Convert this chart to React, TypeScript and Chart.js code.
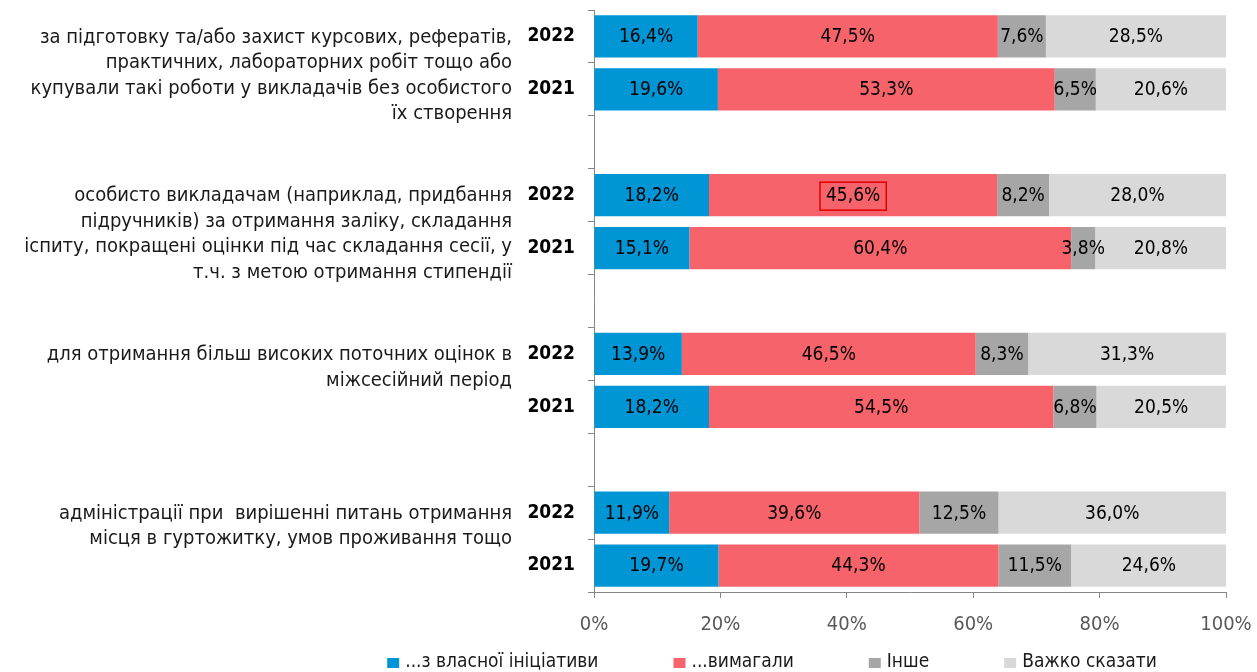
import React, { useEffect, useRef } from "react";
import { Chart, registerables } from "chart.js";

Chart.register(...registerables);

const yearLabels = ["2022", "2021", "", "2022", "2021", "", "2022", "2021", "", "2022", "2021"];

const categoryLines = [
  ["за підготовку та/або захист курсових, рефератів,", "практичних, лабораторних робіт тощо або", "купували такі роботи у викладачів без особистого", "їх створення"],
  ["особисто викладачам (наприклад, придбання", "підручників) за отримання заліку, складання", "іспиту, покращені оцінки під час складання сесії, у", "т.ч. з метою отримання стипендії"],
  ["для отримання більш високих поточних оцінок в", "міжсесійний період"],
  ["адміністрації при  вирішенні питань отримання", "місця в гуртожитку, умов проживання тощо"],
];
const categoryStartIndex = [0, 3, 6, 9];

const seriesNames = ["...з власної ініціативи", "...вимагали", "Інше", "Важко сказати"];
const ownInitiative = [16.4, 19.6, null, 18.2, 15.1, null, 13.9, 18.2, null, 11.9, 19.7];
const demanded = [47.5, 53.3, null, 45.6, 60.4, null, 46.5, 54.5, null, 39.6, 44.3];
const other = [7.6, 6.5, null, 8.2, 3.8, null, 8.3, 6.8, null, 12.5, 11.5];
const hardToSay = [28.5, 20.6, null, 28.0, 20.8, null, 31.3, 20.5, null, 36.0, 24.6];

const xTicks = [0, 20, 40, 60, 80, 100];

const colors = ["#0096D6", "#F7636A", "#A6A6A6", "#D9D9D9"];
const highlight = { dataset: 1, index: 3 };

const FONT = "'DejaVu Sans Condensed', 'DejaVu Sans', sans-serif";

const fmt = (v: number) => v.toFixed(1).replace(".", ",") + "%";

export default function App() {
  const ref = useRef<HTMLCanvasElement | null>(null);
  useEffect(() => {
    document.body.style.margin = "0";
    const ctx = ref.current!.getContext("2d")!;

    const labelPlugin = {
      id: "labels",
      afterDatasetsDraw(chart: any) {
        const c = chart.ctx;
        c.save();
        c.font = `19px ${FONT}`;
        c.fillStyle = "#000";
        c.textAlign = "center";
        c.textBaseline = "middle";
        chart.data.datasets.forEach((ds: any, i: number) => {
          const meta = chart.getDatasetMeta(i);
          meta.data.forEach((bar: any, j: number) => {
            const v = ds.data[j];
            if (v == null) return;
            const p = bar.getProps(["x", "y", "base"], true);
            const cx = (p.x + p.base) / 2;
            const t = fmt(v);
            c.fillText(t, cx, p.y + 1);
            if (i === highlight.dataset && j === highlight.index) {
              const w = c.measureText(t).width;
              c.strokeStyle = "#E00000";
              c.lineWidth = 1.5;
              c.strokeRect(cx - w / 2 - 6, p.y - 13, w + 12, 28);
            }
          });
        });
        c.restore();
      },
    };

    const sidePlugin = {
      id: "side",
      afterDraw(chart: any) {
        const c = chart.ctx;
        const ys = chart.scales.y;
        c.save();
        c.font = `20px ${FONT}`;
        c.fillStyle = "#1a1a1a";
        c.textAlign = "right";
        c.textBaseline = "middle";
        categoryLines.forEach((lines, g) => {
          const y0 = ys.getPixelForValue(categoryStartIndex[g]);
          lines.forEach((ln, k) => {
            c.fillText(ln, 512, y0 + 1 + k * 25.5);
          });
        });
        // legend
        c.font = `19px ${FONT}`;
        c.textAlign = "left";
        const boxW = 12;
        const boxH = 10;
        const gapText = 6;
        const itemGap = 75;
        const widths = seriesNames.map((n) => boxW + gapText + c.measureText(n).width);
        const total = widths.reduce((a, b) => a + b, 0) + itemGap * (seriesNames.length - 1);
        let x = 772 - total / 2;
        const ly = 661;
        seriesNames.forEach((n, i) => {
          c.fillStyle = colors[i];
          c.fillRect(x, ly - boxH / 2 + 2, boxW, boxH);
          c.fillStyle = "#1a1a1a";
          c.fillText(n, x + boxW + gapText, ly + 1);
          x += widths[i] + itemGap;
        });
        c.restore();
      },
    };

    const dataSeries = [ownInitiative, demanded, other, hardToSay];
    const chart = new Chart(ctx, {
      type: "bar",
      data: {
        labels: yearLabels,
        datasets: dataSeries.map((d, i) => ({
          label: seriesNames[i],
          data: d,
          backgroundColor: colors[i],
          borderWidth: 0,
          barPercentage: 0.8,
          categoryPercentage: 1,
        })),
      },
      options: {
        indexAxis: "y",
        animation: false,
        responsive: true,
        maintainAspectRatio: false,
        layout: { padding: { top: 10, right: 31, left: 0, bottom: 20 } },
        plugins: { legend: { display: false }, tooltip: { enabled: false } },
        scales: {
          x: {
            stacked: true,
            min: 0,
            max: 100,
            afterBuildTicks: (s: any) => {
              s.ticks = xTicks.map((v) => ({ value: v }));
            },
            afterFit: (s: any) => {
              s.paddingLeft = 0;
              s.paddingRight = 0;
            },
            ticks: {
              callback: (v: any) => v + "%",
              color: "#595959",
              font: { family: FONT, size: 20 },
              padding: 15,
              maxRotation: 0,
            },
            grid: { drawOnChartArea: false, tickLength: 6, color: "#868686" },
            border: { color: "#868686" },
          },
          y: {
            stacked: true,
            afterFit: (s: any) => {
              s.width = 594;
              s.paddingTop = 0;
              s.paddingBottom = 0;
            },
            ticks: {
              color: "#000",
              font: { family: FONT, size: 19, weight: "bold" },
              padding: 13,
              autoSkip: false,
            },
            grid: { drawOnChartArea: false, offset: true, tickLength: 6, color: "#868686" },
            border: { color: "#868686" },
          },
        },
      } as any,
      plugins: [labelPlugin, sidePlugin],
    });
    return () => chart.destroy();
  }, []);
  return (
    <div style={{ width: 1257, height: 672, position: "relative" }}>
      <canvas ref={ref} />
    </div>
  );
}
